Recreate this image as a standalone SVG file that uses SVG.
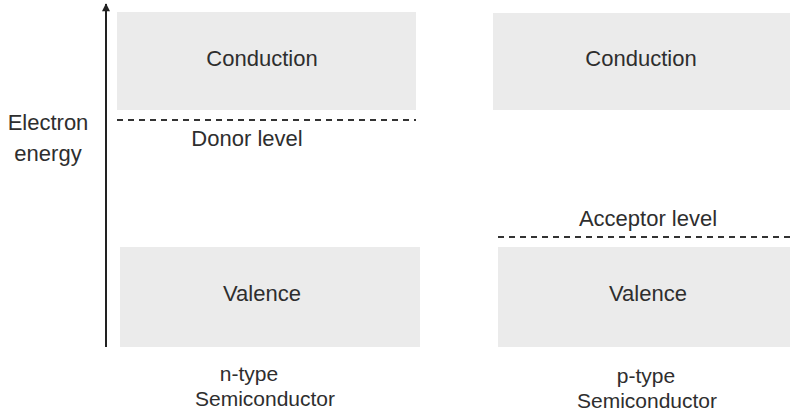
<svg xmlns="http://www.w3.org/2000/svg" width="790" height="419" viewBox="0 0 790 419">
<defs>
<marker id="ah" viewBox="0 0 10 10" refX="9" refY="5" markerWidth="11" markerHeight="8" markerUnits="userSpaceOnUse" orient="auto">
<path d="M0,0 L10,5 L0,10 z" fill="#222"/>
</marker>
</defs>
<style>
.band{fill:#ebebeb}
.t{font-family:"Liberation Sans",Arial,sans-serif;font-size:22px;fill:#2e2e2e;text-anchor:middle}
.lab{font-size:21px}
.lvl{stroke:#333;stroke-width:2;stroke-dasharray:6 5;fill:none}
</style>
<rect width="790" height="419" fill="#fff"/>
<g id="n-conduction"><rect class="band" x="117" y="12" width="299" height="98"/><text class="t" x="262" y="66">Conduction</text></g>
<g id="n-valence"><rect class="band" x="120" y="247" width="300" height="100"/><text class="t" x="262" y="301">Valence</text></g>
<g id="donor"><line class="lvl" x1="117" y1="120" x2="416" y2="120"/><text class="t" x="247" y="146">Donor level</text></g>
<g id="p-conduction"><rect class="band" x="493" y="13" width="297" height="97"/><text class="t" x="641" y="66">Conduction</text></g>
<g id="p-valence"><rect class="band" x="498" y="247" width="292" height="100"/><text class="t" x="648" y="301">Valence</text></g>
<g id="acceptor"><line class="lvl" x1="498" y1="237" x2="790" y2="237"/><text class="t" x="648" y="226">Acceptor level</text></g>
<g id="axis-label"><text class="t" x="48" y="130">Electron</text><text class="t" x="48" y="161">energy</text></g>
<g id="n-label"><text class="t lab" x="249" y="381">n-type</text><text class="t lab" x="265" y="406">Semiconductor</text></g>
<g id="p-label"><text class="t lab" x="646" y="383">p-type</text><text class="t lab" x="647" y="408">Semiconductor</text></g>
<g id="connectors"><line x1="106" y1="347" x2="106" y2="4" stroke="#222" stroke-width="2" marker-end="url(#ah)"/></g>
</svg>
